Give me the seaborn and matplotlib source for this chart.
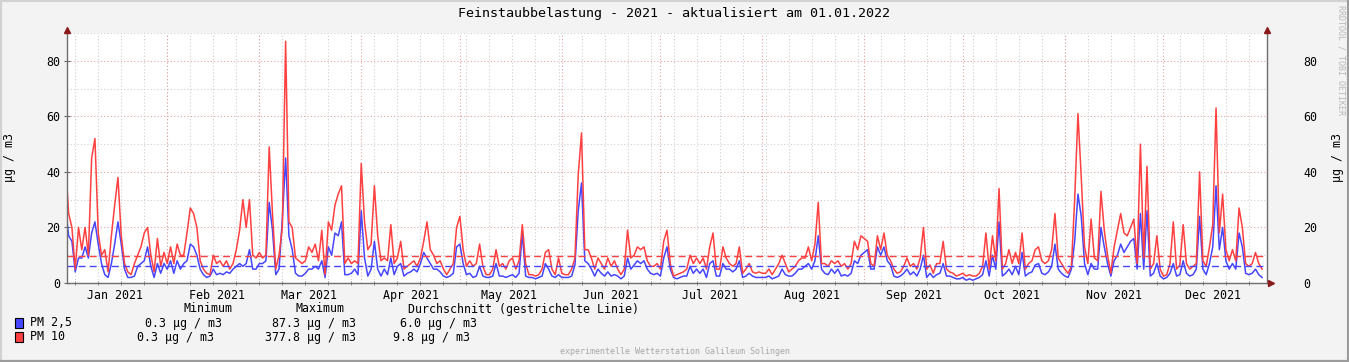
import pandas as pd
import matplotlib
matplotlib.use('Agg')
import matplotlib.pyplot as plt
import matplotlib.dates as mdates
from matplotlib.patches import Rectangle
from matplotlib.lines import Line2D
import seaborn as sns

title = 'Feinstaubbelastung - 2021 - aktualisiert am 01.01.2022'
unit = 'µg / m3'
footer = 'experimentelle Wetterstation Galileum Solingen'
watermark = 'RRDTOOL / TOBI OETIKER'

# Tageswerte 2021, Jan..Dez
pm25 = [
    28, 17, 15, 4, 9, 9, 13, 9, 18, 22, 14, 7, 3, 2, 7, 14, 22, 14, 5, 2, 2, 2.5, 6, 7, 8, 13, 6, 2, 7, 3.5, 7,
    5, 8, 3.5, 8, 5, 7, 8, 14, 13, 10, 5, 3, 2, 2.5, 5, 3, 3.5, 3, 4, 3.5, 5, 6, 7, 6, 7, 12, 5, 5,
    7, 7, 8, 29, 19, 3, 5, 23, 45, 17, 12, 3.5, 2.5, 2.5, 3.5, 5, 5, 6, 5, 8, 2, 13, 10, 18, 17, 22, 3, 3, 3.5, 5, 3,
    26, 9, 2.5, 5, 15, 5, 2.5, 5, 3, 9, 3, 6, 7, 2.5, 3.5, 4, 5, 4, 7, 11, 9, 7, 5, 5, 4, 2.5, 2, 2.5, 3.5, 13,
    14, 7, 3, 3.5, 2, 2.5, 6, 2.5, 2, 2, 2.5, 7, 2.5, 2.5, 2, 2.5, 3, 2, 3.5, 18, 2.5, 2, 2, 1.5, 2, 2.5, 7, 5, 2.5, 2, 3,
    2, 2, 2, 2.5, 6.5, 26, 36, 8, 7, 5, 2.5, 5, 3.5, 2.5, 4, 2.5, 3, 2.5, 1.5, 2.5, 9, 5, 6.5, 8, 7, 8, 5, 3.5, 3, 3.5,
    2.5, 9, 13, 5, 2, 1.5, 2, 2.5, 2.5, 6, 3.5, 5, 3.5, 5, 2, 7, 8, 2.5, 2.5, 7, 5, 5, 4, 5, 8, 2, 2.5, 3.5, 2.5, 2, 2,
    2, 2, 2.5, 1.5, 2, 2.5, 5, 3, 2.5, 2.5, 3.5, 5, 5, 6, 7, 5, 8, 17, 5, 3.5, 3, 5, 3.5, 5, 2.5, 3, 2.5, 3.5, 8, 7, 10,
    11, 12, 5, 5, 13, 10, 13, 8, 6.5, 2.5, 2, 2.5, 3.5, 5, 3, 4, 2.5, 5, 10, 2, 3.5, 2, 3, 3.5, 7, 2.5, 2.5, 2, 1.5, 1.5,
    2, 1, 1.5, 1, 1.5, 2, 3, 8, 2.5, 10, 5, 22, 2.5, 3.5, 5, 3, 6, 3, 11, 2.5, 3.5, 4, 6.5, 7, 3.5, 3, 4, 6, 14, 5, 3.5,
    2.5, 2, 5, 15, 32, 24, 7, 3, 7, 5, 5, 20, 13, 7, 2.5, 8, 10, 14, 11, 13, 15, 16, 5, 25, 5, 26, 2.5, 3.5, 7, 2.5,
    1.5, 2, 3.5, 7, 2.5, 3, 8, 3.5, 2.5, 3, 5, 24, 5, 3, 7, 13, 35, 12, 20, 8, 5, 7, 5, 18, 13, 3.5, 3, 3.5, 5, 3, 2,
]
pm10 = [
    44, 25, 20, 5, 20, 12, 20, 10, 45, 52, 18, 10, 12, 4, 17, 28, 38, 17, 7, 4, 3, 7, 10, 13, 18, 20, 10, 4, 16, 6, 11,
    7, 13, 7, 14, 10, 10, 18, 27, 25, 20, 8, 5, 3.5, 3, 10, 7, 8, 6, 8, 5, 7, 12, 19, 30, 20, 30, 10, 9,
    11, 9, 10, 49, 25, 5, 10, 20, 87, 22, 20, 9, 8, 7, 8, 13, 11, 14, 8, 19, 3, 22, 19, 28, 32, 35, 7, 9, 7, 8, 7,
    43, 22, 12, 14, 35, 17, 8, 9, 8, 21, 7, 9, 15, 5, 6, 7, 8, 6, 9, 15, 22, 12, 10, 7, 8, 5, 3, 5, 7, 20,
    24, 12, 6, 8, 6, 7, 14, 6, 3, 3, 5, 12, 6, 7, 5, 8, 9, 5, 8, 21, 7, 3, 3, 2.5, 3, 5, 11, 12, 5, 3, 9,
    3.5, 3, 3, 5, 9, 39, 54, 12, 12, 9, 5, 9, 7, 5, 9, 6, 8, 5, 3, 5, 19, 9, 10, 13, 12, 13, 8, 6, 6, 7,
    5, 15, 19, 7, 2.5, 3, 3.5, 4, 5, 10, 7, 9, 7, 9, 5, 13, 18, 5, 5, 13, 9, 7, 6, 7, 13, 3.5, 5, 7, 4, 3.5, 4,
    3.5, 3.5, 5, 3, 5, 7, 10, 7, 4, 5, 6, 8, 9, 9, 13, 8, 14, 29, 7, 7, 6, 8, 7, 8, 6, 7, 5, 7, 15, 12, 17,
    16, 15, 7, 6, 17, 12, 18, 10, 8, 5, 3.5, 4, 6, 9, 6, 7, 5, 9, 20, 5, 6.5, 3.5, 7, 7, 15, 5, 4, 3.5, 2.5, 3,
    3.5, 2.5, 3, 2.5, 2.5, 3.5, 6, 18, 5, 17, 8, 34, 5, 7, 12, 7, 11, 7, 18, 5, 7, 8, 12, 13, 8, 7, 8, 12, 25, 9, 7,
    5, 3.5, 6, 30, 61, 38, 13, 7, 23, 9, 8, 33, 19, 10, 3.5, 13, 19, 25, 18, 17, 20, 23, 7, 50, 9, 42, 5, 7, 17, 5,
    2.5, 3, 7, 22, 5, 6.5, 21, 7, 5, 6, 7, 40, 8, 6, 13, 21, 63, 18, 32, 12, 8, 12, 8, 27, 20, 7, 6, 7, 11, 7, 5,
]
avg25 = 6.0
avg10 = 9.8
series = ['PM 2,5', 'PM 10']
colors = ['#4646ff', '#ff4040']
minimum = ['0.3 µg / m3', '0.3 µg / m3']
maximum = ['87.3 µg / m3', '377.8 µg / m3']
mean_txt = ['6.0 µg / m3', '9.8 µg / m3']

days = pd.date_range('2021-01-01', periods=len(pm10), freq='D')
df = pd.DataFrame({'tag': days, 'pm25': pm25, 'pm10': pm10})

W, H = 1349, 362
mono = 'DejaVu Sans Mono'
plt.rcParams['font.family'] = mono

fig = plt.figure(figsize=(W / 100, H / 100), dpi=100)
fig.patch.set_facecolor('#f3f3f3')
ax = fig.add_axes([67 / W, 1 - 283 / H, 1200 / W, 250 / H])
ax.set_facecolor('white')

sns.lineplot(data=df, x='tag', y='pm25', ax=ax, color=colors[0], lw=1.1, zorder=3)
sns.lineplot(data=df, x='tag', y='pm10', ax=ax, color=colors[1], lw=1.1, zorder=4)
ax.axhline(avg25, color=colors[0], lw=1, dashes=(5, 3), zorder=5)
ax.axhline(avg10, color=colors[1], lw=1, dashes=(5, 3), zorder=5)

ax.set_xlim(pd.Timestamp('2021-01-01 12:00'), pd.Timestamp('2022-01-01 12:00'))
ax.set_ylim(0, 90)
ax.set_xlabel('')
ax.set_ylabel('')

# Gitter
dot = (0, (1, 2))
for v in range(10, 91, 20):
    ax.axhline(v, color='#cfcfcf', lw=0.8, ls=dot, zorder=1)
for v in range(20, 81, 20):
    ax.axhline(v, color='#e3a3a3', lw=0.8, ls=dot, zorder=1)
for d in pd.date_range('2021-01-04', '2021-12-31', freq='W-MON'):
    ax.axvline(d, color='#cfcfcf', lw=0.8, ls=dot, zorder=1)
for d in pd.date_range('2021-02-01', '2021-12-01', freq='MS'):
    ax.axvline(d, color='#e3a3a3', lw=0.8, ls=dot, zorder=2)

ax.xaxis.set_major_locator(mdates.MonthLocator(bymonthday=16))
ax.xaxis.set_major_formatter(mdates.DateFormatter('%b %Y'))
ax.xaxis.set_minor_locator(mdates.WeekdayLocator(byweekday=mdates.MO))
ax.tick_params(axis='x', which='major', length=0, pad=4, labelsize=8.4)
ax.tick_params(axis='x', which='minor', length=3, direction='inout', color='#888888', width=0.7)
ax.set_yticks(range(0, 81, 20))
ax.tick_params(axis='y', length=4, direction='inout', color='#666666', width=0.8,
               labelsize=8.4, pad=3)

ax2 = ax.twinx()
ax2.set_ylim(0, 90)
ax2.set_yticks(range(0, 81, 20))
ax2.tick_params(axis='y', length=0, labelsize=8.4, pad=26)

for a in (ax, ax2):
    for s in a.spines.values():
        s.set_visible(False)

# Achsen mit Pfeilen
axis_col = '#6e6e6e'
arrow_col = '#8b1a1a'
ax.plot([0, 0], [0, 1.014], transform=ax.transAxes, color=axis_col, lw=1, clip_on=False, zorder=6)
ax.plot([1, 1], [0, 1.014], transform=ax.transAxes, color=axis_col, lw=1, clip_on=False, zorder=6)
ax.plot([0, 1.003], [0, 0], transform=ax.transAxes, color=axis_col, lw=1, clip_on=False, zorder=6)
ax.plot([0, 1], [1.014, 1.014], transform=ax.transAxes, ls='none', marker='^', ms=4.5,
        color=arrow_col, clip_on=False, zorder=7)
ax.plot([1.003], [0], transform=ax.transAxes, ls='none', marker='>', ms=4.5,
        color=arrow_col, clip_on=False, zorder=7)

# Texte
fig.text(0.5, 1 - 14 / H, title, ha='center', va='center', fontsize=9.6)
fig.text(10 / W, 1 - 158 / H, unit, rotation=90, ha='center', va='center', fontsize=8.4)
fig.text(1338 / W, 1 - 158 / H, unit, rotation=90, ha='center', va='center', fontsize=8.4)
fig.text(1341 / W, 1 - 60 / H, watermark, rotation=270, ha='center', va='center',
         fontsize=6, color='#b8b8b8')
fig.text(0.5, 1 - 351 / H, footer, ha='center', va='center', fontsize=6, color='#a8a8a8')

fs = 8.4
fig.text(184 / W, 1 - 309 / H, 'Minimum', va='center', fontsize=fs)
fig.text(296 / W, 1 - 309 / H, 'Maximum', va='center', fontsize=fs)
fig.text(408 / W, 1 - 309 / H, 'Durchschnitt (gestrichelte Linie)', va='center', fontsize=fs)
rows_y = [323, 337]
min_x = [145, 137]
max_x = [272, 265]
avg_x = [400, 393]
for i in range(2):
    y = 1 - rows_y[i] / H
    fig.patches.append(Rectangle((15 / W, 1 - (rows_y[i] + 5) / H), 8 / W, 10 / H,
                                 transform=fig.transFigure, fc=colors[i], ec='black', lw=0.8))
    fig.text(30 / W, y, series[i], va='center', fontsize=fs)
    fig.text(min_x[i] / W, y, minimum[i], va='center', fontsize=fs)
    fig.text(max_x[i] / W, y, maximum[i], va='center', fontsize=fs)
    fig.text(avg_x[i] / W, y, mean_txt[i], va='center', fontsize=fs)

# Rahmen
fig.add_artist(Line2D([0, 1], [1, 1], transform=fig.transFigure, color='#d2d2d2', lw=3))
fig.add_artist(Line2D([0, 0], [0, 1], transform=fig.transFigure, color='#d2d2d2', lw=3))
fig.add_artist(Line2D([0, 1], [0, 0], transform=fig.transFigure, color='#9c9c9c', lw=3))
fig.add_artist(Line2D([1, 1], [0, 1], transform=fig.transFigure, color='#9c9c9c', lw=3))

fig.savefig('out.png', dpi=100, facecolor=fig.get_facecolor())
